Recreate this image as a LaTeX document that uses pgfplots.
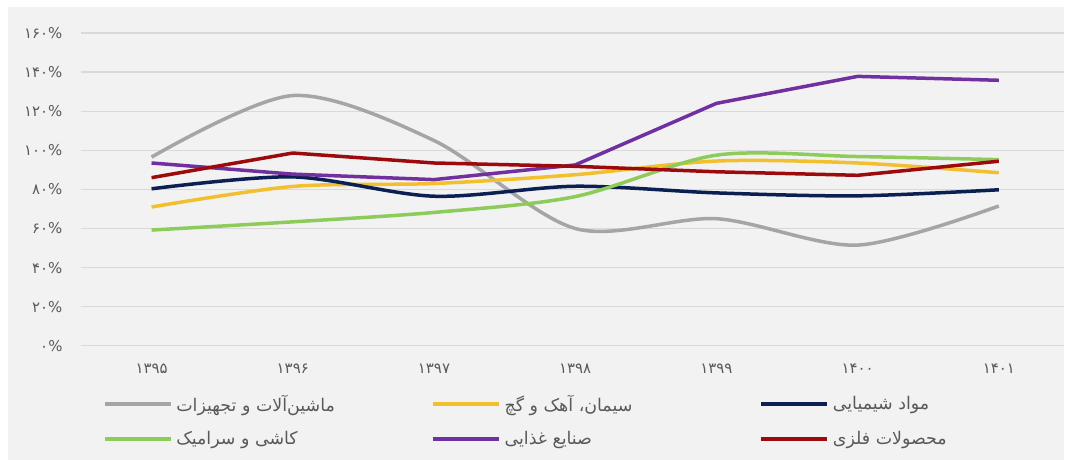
\documentclass[border=0pt]{standalone}
\usepackage{pgfplots}
\pgfplotsset{compat=1.18}
\usepackage{fontspec}
\setmainfont{DejaVu Sans}
\newfontfamily\fa[Script=Arabic]{DejaVu Sans}
\TeXXeTstate=1
\definecolor{bgc}{HTML}{F2F2F2}
\definecolor{gridc}{HTML}{D9D9D9}
\definecolor{tickc}{HTML}{595959}
\definecolor{cgray}{HTML}{A5A5A5}
\definecolor{cyel}{HTML}{F2C02E}
\definecolor{cnavy}{HTML}{0C1F52}
\definecolor{cgreen}{HTML}{8DCB5B}
\definecolor{cpurp}{HTML}{7030A0}
\definecolor{cred}{HTML}{9C0A0E}
\begin{document}
\begin{tikzpicture}
\fill[white] (0,0) rectangle (1065bp,460bp);
\fill[bgc] (8bp,0) rectangle (1065bp,453bp);
\begin{axis}[
  at={(81bp,114bp)}, anchor=south west,
  scale only axis, width=984bp, height=313bp,
  xmin=-0.5, xmax=6.464, ymin=0, ymax=160,
  xtick={0,...,6},
  xticklabels={{۱۳۹۵},{۱۳۹۶},{۱۳۹۷},{۱۳۹۸},{۱۳۹۹},{۱۴۰۰},{۱۴۰۱}},
  ytick={0,20,...,160},
  yticklabels={{۰\%},{۲۰\%},{۴۰\%},{۶۰\%},{۸۰\%},{۱۰۰\%},{۱۲۰\%},{۱۴۰\%},{۱۶۰\%}},
  xticklabel style={font=\fa\fontsize{15}{15}\selectfont, text=tickc, yshift=-15bp},
  yticklabel style={font=\fa\fontsize{15}{15}\selectfont, text=tickc, xshift=-15bp},
  axis line style={draw=none}, tick style={draw=none},
  ymajorgrids, grid style={color=gridc, line width=1.3bp},
  clip=false,
  legend columns=3,
  legend style={at={(0.019,-0.15)}, anchor=north west, draw=none, fill=none,
    font=\fa\fontsize{17.5}{17.5}\selectfont, text=tickc,
    nodes={inner sep=0pt},
    /tikz/every odd column/.append style={column sep=4bp},
    row sep=19bp},
  legend cell align=left,
  legend image code/.code={\draw[#1, line width=3.5bp] (0bp,0bp) -- (66bp,0bp);},
  every axis plot/.append style={line width=3.5bp},
]
\addplot[cgray, smooth] coordinates {(0,96.5)(1,128)(2,105)(3,60)(4,65)(5,51.5)(6,71.5)};
\addlegendentry{\makebox[255bp][l]{\beginR ماشین‌آلات و تجهیزات\endR}}
\addplot[cyel, smooth] coordinates {(0,71)(1,81.5)(2,83)(3,87.5)(4,94.5)(5,93.5)(6,88.5)};
\addlegendentry{\makebox[255bp][l]{\beginR سیمان، آهک و گچ\endR}}
\addplot[cnavy, smooth] coordinates {(0,80.3)(1,86.4)(2,76.5)(3,81.6)(4,78.2)(5,76.7)(6,79.8)};
\addlegendentry{\makebox[180bp][l]{\beginR مواد شیمیایی\endR}}
\addplot[cgreen, smooth] coordinates {(0,59.2)(1,63.4)(2,68.2)(3,76.3)(4,97.5)(5,96.8)(6,95.2)};
\addlegendentry{\makebox[255bp][l]{\beginR کاشی و سرامیک\endR}}
\addplot[cpurp] coordinates {(0,93.5)(1,87.8)(2,85)(3,92.5)(4,124)(5,137.8)(6,135.8)};
\addlegendentry{\makebox[255bp][l]{\beginR صنایع غذایی\endR}}
\addplot[cred] coordinates {(0,86)(1,98.6)(2,93.5)(3,91.8)(4,89)(5,87.2)(6,94.4)};
\addlegendentry{\makebox[180bp][l]{\beginR محصولات فلزی\endR}}
\end{axis}
\end{tikzpicture}
\end{document}
